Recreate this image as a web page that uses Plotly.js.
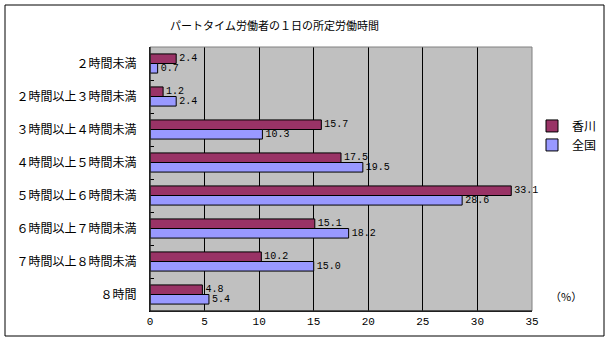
<!DOCTYPE html>
<html><head><meta charset="utf-8">
<script src="https://cdn.plot.ly/plotly-3.0.1.min.js"></script>
<style>body{margin:0;padding:0;background:#fff}#c{width:610px;height:344px}</style>
</head><body><div id="c"></div>
<script>
const categories = ["２時間未満","２時間以上３時間未満","３時間以上４時間未満","４時間以上５時間未満","５時間以上６時間未満","６時間以上７時間未満","７時間以上８時間未満","８時間"];
const kagawa = [2.4,1.2,15.7,17.5,33.1,15.1,10.2,4.8];
const zenkoku = [0.7,2.4,10.3,19.5,28.6,18.2,15.0,5.4];
const seriesNames = ["香川","全国"];
const xTicks = [0,5,10,15,20,25,30,35];
const F = '"Noto Sans CJK JP", "Noto Sans", sans-serif';
const FM = '"Liberation Mono", "DejaVu Sans Mono", monospace';
function tr(name, vals, color){
  return {type:'bar', orientation:'h', name:name, y:categories, x:vals,
    marker:{color:color, line:{color:'#000', width:1}},
    text:vals.map(v=>v.toFixed(1)), textposition:'outside', cliponaxis:false, constraintext:'none',
    textfont:{family:FM, size:10, color:'#000'}, hoverinfo:'skip'};
}
const data = [tr(seriesNames[0], kagawa, '#993366'), tr(seriesNames[1], zenkoku, '#9999FF')];
const layout = {
  width:610, height:344, margin:{l:150,r:78,t:47,b:33, autoexpand:false},
  paper_bgcolor:'#fff', plot_bgcolor:'#c0c0c0',
  barmode:'group', bargap:0.42, bargroupgap:0,
  title:{text:'パートタイム労働者の１日の所定労働時間', font:{family:F,size:11,color:'#000'}, x:0.45, xanchor:'center', y:0.925, yanchor:'middle'},
  xaxis:{range:[0,35], tickvals:xTicks, ticktext:xTicks.map(String), showgrid:true, gridcolor:'#000', gridwidth:1,
    zeroline:false, showline:true, linecolor:'#000', mirror:false, ticks:'', tickfont:{family:FM,size:11,color:'#000'}, fixedrange:true},
  yaxis:{autorange:'reversed', type:'category', showgrid:false, showline:true, linecolor:'#000', ticks:'inside', ticklen:4, tickcolor:'#000',
    tickson:'boundaries', tickfont:{family:F,size:12,color:'#000'}, ticklabelstandoff:10, fixedrange:true},
  legend:{x:1.0, y:0.665, xanchor:'left', yanchor:'middle', font:{family:F,size:12,color:'#000'}, bgcolor:'rgba(0,0,0,0)', tracegroupgap:2, itemwidth:30},
  showlegend:true,
  shapes:[
    {type:'rect', xref:'paper', yref:'paper', x0:0, x1:1, y0:0, y1:1, line:{color:'#808080',width:1}, layer:'above'},
    {type:'line', xref:'paper', yref:'paper', x0:0, x1:1, y0:0, y1:0, line:{color:'#000',width:1}, layer:'above'},
    {type:'line', xref:'paper', yref:'paper', x0:0, x1:0, y0:0, y1:1, line:{color:'#000',width:1}, layer:'above'},
    {type:'rect', xref:'paper', yref:'paper', x0:-145/382, x1:(604-150)/382, y0:-(336-311)/264, y1:(311-5)/264, line:{color:'#000',width:1}}
  ],
  annotations:[{text:'（%）', xref:'paper', yref:'paper', x:(584-150)/382, y:(311-306)/264, showarrow:false, font:{family:F,size:11,color:'#000'}}]
};
Plotly.newPlot('c', data, layout, {staticPlot:true});
</script></body></html>
